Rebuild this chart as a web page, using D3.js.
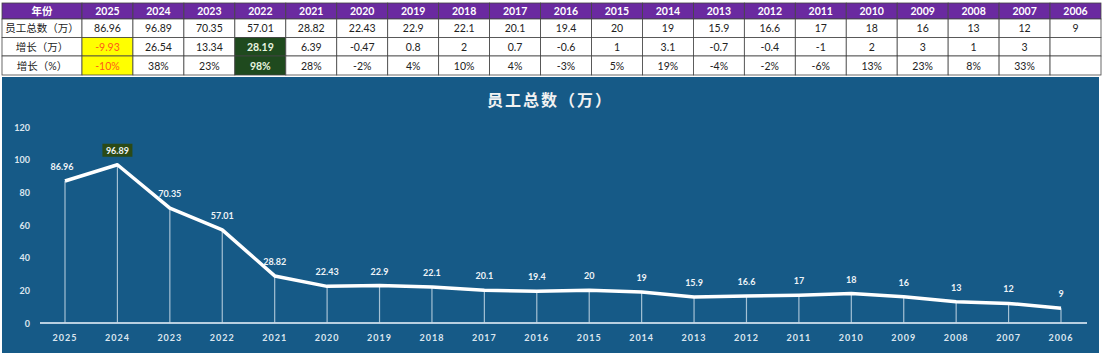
<!DOCTYPE html>
<html>
  <head>
    <meta charset="utf-8">
    <script src="https://d3js.org/d3.v7.min.js"></script>
    <title>员工总数</title>
    <style>
      body { margin: 0; background: #fff; }
      text { font-family: Lato, "Noto Sans CJK SC", sans-serif; }
    </style>
  </head>
  <body>
    <svg width="1106" height="356"></svg>
    <script>
      // data
      const years = [2025, 2024, 2023, 2022, 2021, 2020, 2019, 2018, 2017, 2016,
                     2015, 2014, 2013, 2012, 2011, 2010, 2009, 2008, 2007, 2006];
      const staff = [86.96, 96.89, 70.35, 57.01, 28.82, 22.43, 22.9, 22.1, 20.1, 19.4,
                     20, 19, 15.9, 16.6, 17, 18, 16, 13, 12, 9];
      const growth = ['-9.93', '26.54', '13.34', '28.19', '6.39', '-0.47', '0.8', '2', '0.7', '-0.6',
                      '1', '3.1', '-0.7', '-0.4', '-1', '2', '3', '1', '3', ''];
      const growthPct = ['-10%', '38%', '23%', '98%', '28%', '-2%', '4%', '10%', '4%', '-3%',
                         '5%', '19%', '-4%', '-2%', '-6%', '13%', '23%', '8%', '33%', ''];
      const rowLabels = ['年份', '员工总数（万）', '增长（万）', '增长（%）'];
      const yTicks = [0, 20, 40, 60, 80, 100, 120];

      const svg = d3.select('svg');

      // ---- table ----
      const tLeft = 2, firstW = 80, tRight = 1101;
      const rowTops = [3, 19, 37.5, 56, 75];
      const colX = d3.scaleBand()
        .domain(years)
        .range([tLeft + firstW, tRight]);

      const table = svg.append('g');
      const rows = [years.map(String), staff.map(String), growth, growthPct];

      rows.forEach((cells, r) => {
        const y0 = rowTops[r], h = rowTops[r + 1] - rowTops[r];
        const header = r === 0;
        // label cell
        table.append('rect')
          .attr('x', tLeft).attr('y', y0).attr('width', firstW).attr('height', h)
          .attr('fill', header ? '#6a2aa0' : '#fff')
          .attr('stroke', '#444').attr('stroke-width', 0.8);
        table.append('text')
          .attr('x', tLeft + firstW / 2).attr('y', y0 + h / 2 + 4)
          .attr('text-anchor', 'middle')
          .attr('font-size', 10.5).attr('font-weight', header ? 'bold' : 'normal')
          .attr('fill', header ? '#fff' : '#222')
          .text(rowLabels[r]);

        cells.forEach((c, i) => {
          let fill = header ? '#6a2aa0' : '#fff';
          let color = header ? '#fff' : '#222';
          if (r > 1 && i === 0) { fill = '#ffff00'; color = '#ff5a1a'; }
          if (r > 1 && i === 3) { fill = '#1f4a1e'; color = '#e8f5e0'; }
          table.append('rect')
            .attr('x', colX(years[i])).attr('y', y0)
            .attr('width', colX.bandwidth()).attr('height', h)
            .attr('fill', fill)
            .attr('stroke', '#444').attr('stroke-width', 0.8);
          table.append('text')
            .attr('x', colX(years[i]) + colX.bandwidth() / 2).attr('y', y0 + h / 2 + 4)
            .attr('text-anchor', 'middle')
            .attr('font-size', 10.5)
            .attr('font-weight', header || (r > 1 && i === 3) ? 'bold' : 'normal')
            .attr('fill', color)
            .text(c);
        });
      });

      // ---- chart panel ----
      const panel = { x: 2, y: 77, w: 1097, h: 276 };
      svg.append('rect')
        .attr('x', panel.x).attr('y', panel.y)
        .attr('width', panel.w).attr('height', panel.h)
        .attr('fill', '#165a87');

      svg.append('text')
        .attr('x', 550).attr('y', 106)
        .attr('text-anchor', 'middle')
        .attr('font-size', 16).attr('font-weight', 'bold')
        .attr('fill', '#f2f2f2')
        .attr('letter-spacing', 2)
        .text('员工总数（万）');

      const xScale = d3.scalePoint()
        .domain(years)
        .range([65, 1061]);
      const yScale = d3.scaleLinear()
        .domain([0, 120])
        .range([323, 127]);

      // y tick labels
      svg.append('g').selectAll('text').data(yTicks)
        .enter().append('text')
          .attr('x', 30).attr('y', d => yScale(d) + 3.5)
          .attr('text-anchor', 'end')
          .attr('font-size', 9).attr('font-weight', 'bold')
          .attr('fill', '#dce6ef')
          .text(d => d);

      // baseline
      svg.append('line')
        .attr('x1', 40).attr('x2', 1087)
        .attr('y1', yScale(0)).attr('y2', yScale(0))
        .attr('stroke', '#b8cfe0').attr('stroke-width', 2);

      // x axis labels
      svg.append('g').selectAll('text').data(years)
        .enter().append('text')
          .attr('x', d => xScale(d)).attr('y', 341)
          .attr('text-anchor', 'middle')
          .attr('font-size', 9).attr('font-weight', 'bold')
          .attr('letter-spacing', 1)
          .attr('fill', '#dce6ef')
          .text(d => d);

      const pts = years.map((y, i) => ({ year: y, v: staff[i] }));

      // drop lines
      svg.append('g').selectAll('line').data(pts)
        .enter().append('line')
          .attr('x1', d => xScale(d.year)).attr('x2', d => xScale(d.year))
          .attr('y1', d => yScale(d.v)).attr('y2', yScale(0))
          .attr('stroke', '#c9dbe8').attr('stroke-width', 1.2)
          .attr('opacity', 0.8);

      // line
      const line = d3.line()
        .x(d => xScale(d.year))
        .y(d => yScale(d.v));
      svg.append('path')
        .datum(pts)
        .attr('d', line)
        .attr('fill', 'none')
        .attr('stroke', '#fff')
        .attr('stroke-width', 3.5)
        .attr('stroke-linejoin', 'round');

      // highlight box behind the peak label
      const peak = pts[1];
      svg.append('rect')
        .attr('x', xScale(peak.year) - 15).attr('y', yScale(peak.v) - 21)
        .attr('width', 30).attr('height', 13)
        .attr('fill', '#2b4a16');

      // value labels
      svg.append('g').selectAll('text').data(pts)
        .enter().append('text')
          .attr('x', d => xScale(d.year) - (d.year === 2025 ? 3 : 0))
          .attr('y', d => yScale(d.v) - 11)
          .attr('text-anchor', 'middle')
          .attr('font-size', 9).attr('font-weight', 'bold')
          .attr('fill', '#eef3f7')
          .text(d => d.v);
    </script>
  </body>
</html>
